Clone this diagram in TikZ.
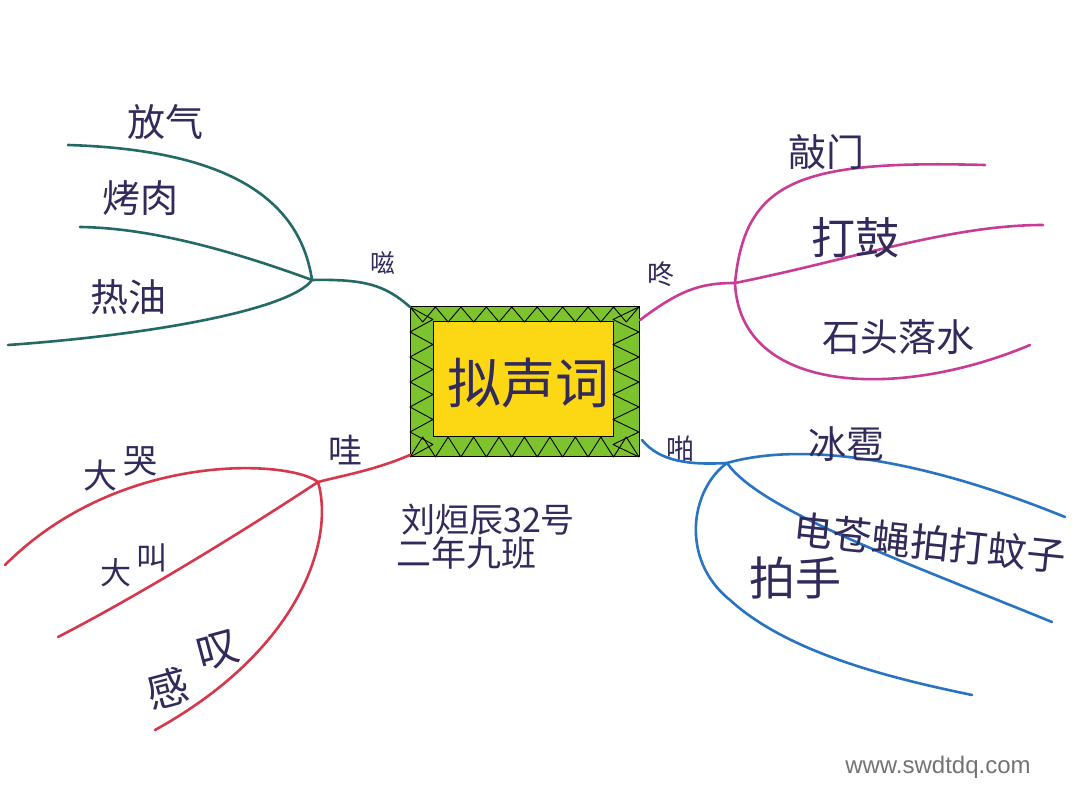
\documentclass[tikz,border=0pt]{standalone}
\usepackage{fontspec}
\setmainfont{Noto Sans CJK SC}
\newfontfamily\wm{Liberation Sans}
\definecolor{ink}{RGB}{50,42,90}
\definecolor{cteal}{RGB}{35,105,100}
\definecolor{cpink}{RGB}{200,60,150}
\definecolor{cblue}{RGB}{40,115,195}
\definecolor{cred}{RGB}{215,55,75}
\definecolor{boxgreen}{RGB}{125,195,45}
\definecolor{boxyellow}{RGB}{252,215,20}
\tikzset{
  lbl/.style={text=ink, inner sep=1pt},
  branch/.style={line width=2.6pt, line cap=round},
  zig/.style={draw=black, line width=0.9pt, line join=round}
}
\begin{document}
\begin{tikzpicture}[x=1pt,y=-1pt]
\useasboundingbox[fill=white] (0,0) rectangle (1080,810);
% central box
\node[draw=black, line width=1pt, fill=boxgreen, minimum width=229pt, minimum height=150pt, inner sep=0pt] (box) at (524.5,382) {};
\node[draw=black, line width=1pt, fill=boxyellow, minimum width=180pt, minimum height=115pt, inner sep=0pt] (inbox) at (523,379.5) {};
\draw[zig] (410,307) \foreach \i in {1,...,9}{ -- ({410+(\i-0.5)*25.44},322) -- ({410+\i*25.44},307)};
\draw[zig] (410,457) \foreach \i in {1,...,9}{ -- ({410+(\i-0.5)*25.44},437) -- ({410+\i*25.44},457)};
\draw[zig] (410,307) \foreach \i in {1,...,6}{ -- (433,{307+(\i-0.5)*25}) -- (410,{307+\i*25})};
\draw[zig] (639,307) \foreach \i in {1,...,6}{ -- (613,{307+(\i-0.5)*25}) -- (639,{307+\i*25})};
\node[lbl, font=\fontsize{54}{60}\selectfont] (title) at (528,383) {拟声词};
\node[lbl, font=\fontsize{34}{40}\selectfont, anchor=west] (name) at (400,520) {刘烜辰32号};
\node[lbl, font=\fontsize{35}{40}\selectfont, anchor=west] (cls) at (395,553) {二年九班};

% top-left: 嗞
\node[lbl, font=\fontsize{25}{30}\selectfont] (zi) at (383,263) {嗞};
\coordinate (tA) at (410,307);
\coordinate (jA) at (312,280);
\coordinate (a1) at (68,145);
\coordinate (a2) at (80,227);
\coordinate (a3) at (8,345);
\draw[branch, cteal] (tA) .. controls (385,285) and (365,279) .. (jA);
\draw[branch, cteal] (jA) .. controls (300,200) and (230,150) .. (a1);
\draw[branch, cteal] (jA) .. controls (230,250) and (150,228) .. (a2);
\draw[branch, cteal] (jA) .. controls (290,310) and (150,335) .. (a3);
\node[lbl, font=\fontsize{38}{44}\selectfont] (fq) at (165,122) {放气};
\node[lbl, font=\fontsize{38}{44}\selectfont] (kr) at (140,198) {烤肉};
\node[lbl, font=\fontsize{38}{44}\selectfont] (ry) at (128,297) {热油};

% top-right: 咚
\node[lbl, font=\fontsize{27}{32}\selectfont] (dong) at (661,274) {咚};
\coordinate (tB) at (640,320);
\coordinate (jB) at (735,283);
\coordinate (b1) at (985,165);
\coordinate (b2) at (1043,225);
\coordinate (b3) at (1030,345);
\draw[branch, cpink] (tB) .. controls (680,290) and (700,283) .. (jB);
\draw[branch, cpink] (jB) .. controls (745,180) and (800,160) .. (b1);
\draw[branch, cpink] (jB) .. controls (850,260) and (950,225) .. (b2);
\draw[branch, cpink] (jB) .. controls (740,395) and (900,400) .. (b3);
\node[lbl, font=\fontsize{38}{44}\selectfont] (qm) at (826,152) {敲门};
\node[lbl, font=\fontsize{44}{50}\selectfont] (dg) at (855,238) {打鼓};
\node[lbl, font=\fontsize{38}{44}\selectfont] (st) at (898,337) {石头落水};

% bottom-right: 啪
\node[lbl, font=\fontsize{28}{32}\selectfont] (pa) at (680,449) {啪};
\coordinate (tC) at (642,440);
\coordinate (jC) at (727,463);
\coordinate (c1) at (1065,517);
\coordinate (c2) at (1052,622);
\coordinate (cm) at (730,600);
\coordinate (c3) at (972,695);
\draw[branch, cblue] (tC) .. controls (660,462) and (690,465) .. (jC);
\draw[branch, cblue] (jC) .. controls (790,445) and (900,450) .. (c1);
\draw[branch, cblue] (jC) .. controls (760,510) and (900,560) .. (c2);
\draw[branch, cblue] (jC) .. controls (690,490) and (680,560) .. (cm) .. controls (790,655) and (900,680) .. (c3);
\node[lbl, font=\fontsize{38}{44}\selectfont] (bb) at (846,444) {冰雹};
\node[lbl, font=\fontsize{39}{44}\selectfont, rotate=-6] (dc) at (930,543) {电苍蝇拍打蚊子};
\node[lbl, font=\fontsize{46}{52}\selectfont] (ps) at (795,578) {拍手};

% bottom-left: 哇
\node[lbl, font=\fontsize{34}{40}\selectfont] (wa) at (345,450) {哇};
\coordinate (tD) at (410,455);
\coordinate (jD) at (318,482);
\coordinate (d1) at (5,565);
\coordinate (d2) at (58,637);
\coordinate (d3) at (155,730);
\draw[branch, cred] (tD) .. controls (375,470) and (345,475) .. (jD);
\draw[branch, cred] (jD) .. controls (290,460) and (120,450) .. (d1);
\draw[branch, cred] (jD) .. controls (230,540) and (130,600) .. (d2);
\draw[branch, cred] (jD) .. controls (335,540) and (300,650) .. (d3);
\node[lbl, font=\fontsize{34}{40}\selectfont] (dk1) at (100,476) {大};
\node[lbl, font=\fontsize{34}{40}\selectfont] (dk2) at (140,461) {哭};
\node[lbl, font=\fontsize{31}{36}\selectfont] (dj1) at (116,573) {大};
\node[lbl, font=\fontsize{31}{36}\selectfont] (dj2) at (152,558) {叫};
\node[lbl, font=\fontsize{42}{48}\selectfont, rotate=15] (gt1) at (168,688) {感};
\node[lbl, font=\fontsize{42}{48}\selectfont, rotate=15] (gt2) at (218,650) {叹};

% watermark
\node[text=black!55, font=\wm\fontsize{24}{28}\selectfont] (wmk) at (938,767) {www.swdtdq.com};
\end{tikzpicture}
\end{document}
